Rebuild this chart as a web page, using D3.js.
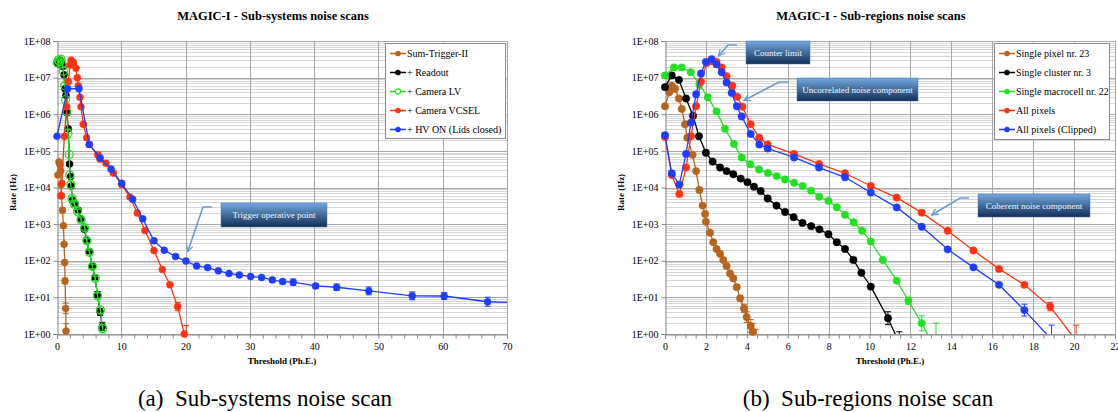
<!DOCTYPE html>
<html>
<head>
<meta charset="utf-8">
<script src="https://cdn.jsdelivr.net/npm/d3@7"></script>
<style>
  body { margin: 0; background: #fff; }
  svg, svg text, .axis text { font-family: 'Liberation Serif', 'DejaVu Serif', serif !important; }
  .title { font-size: 12.5px; font-weight: bold; }
  .axis-label { font-size: 9px; font-weight: bold; }
  .caption { font-size: 23px; }
  .legend-text { font-size: 10px; }
  .callout-text { font-size: 9px; fill: #f4f7fb; }
  .axis text { font-size: 10px; fill: #000; }
  .axis path, .axis line { stroke: #868686; }
</style>
</head>
<body>
<div id="wrapper"></div>
<script>
// 1. data
const yTickValues = [1, 1e1, 1e2, 1e3, 1e4, 1e5, 1e6, 1e7, 1e8];
const leftXTicks = [0, 10, 20, 30, 40, 50, 60, 70];
const rightXTicks = [0, 2, 4, 6, 8, 10, 12, 14, 16, 18, 20, 22];

const leftNames = ["Sum-Trigger-II", "+ Readout", "+ Camera LV", "+ Camera VCSEL", "+ HV ON (Lids closed)"];
const rightNames = ["Single pixel nr. 23", "Single cluster nr. 3", "Single macrocell nr. 22", "All pixels", "All pixels (Clipped)"];

// left panel: sub-systems
const sumTriggerX = [0.15, 0.3, 0.45, 0.55, 0.65, 0.7, 0.85, 1.0, 1.1, 1.2, 1.25, 1.35, 1.4];
const sumTriggerY = [2.2e4, 5e4, 4.2e4, 2.8e4, 1.2e4, 6e3, 2.4e3, 900, 280, 90, 28, 5, 1.2];
const sumTriggerErr = [1, 1, 1, 1, 1, 1, 1, 1, 1, 1.1, 1.2, 1.4, 1.6];

const readoutX = [0.1, 0.3, 0.5, 0.7, 0.9, 1.1, 1.25, 1.4, 1.55, 1.75, 1.95, 2.1, 2.2, 2.4, 2.8, 3.3, 3.7, 4.25, 4.6, 5.0, 5.5, 5.9, 6.3, 6.7, 7.05];
const readoutY = [2.4e7, 2.8e7, 3e7, 2.5e7, 2e7, 1.2e7, 5e6, 3.3e6, 1.1e6, 4e5, 4.4e4, 2e4, 1.1e4, 4.5e3, 3.6e3, 2.4e3, 1.4e3, 720, 370, 180, 72, 35, 12, 4, 1.6];
const readoutErr = [1, 1, 1, 1, 1, 1, 1, 1, 1, 1, 1, 1, 1, 1.1, 1.1, 1.1, 1.1, 1.1, 1.1, 1.1, 1.1, 1.15, 1.2, 1.25, 1.3];

const cameraLvX = [0.05, 0.2, 0.4, 0.6, 0.8, 1.0, 1.2, 1.35, 1.5, 1.7, 1.9, 2.0, 2.15, 2.35, 2.7, 3.2, 3.75, 4.3, 4.65, 5.05, 5.5, 5.95, 6.3, 6.75, 7.1];
const cameraLvY = [2.6e7, 3e7, 2.7e7, 3.2e7, 2.4e7, 1.5e7, 6e6, 2.5e6, 1.2e6, 3e5, 8e4, 2.2e4, 1.2e4, 5e3, 3.5e3, 2.2e3, 1.3e3, 800, 350, 170, 70, 33, 11, 4.5, 1.4];
const cameraLvErr = [1, 1, 1, 1, 1, 1, 1, 1, 1, 1.3, 1, 1, 1, 1.15, 1.15, 1.15, 1.15, 1.15, 1.15, 1.15, 1.15, 1.15, 1.2, 1.25, 1.3];

const vcselX = [0.6, 0.75, 1.14, 1.51, 1.76, 2.02, 2.22, 2.54, 2.95, 3.16, 3.31, 3.58, 3.73, 4.09, 4.62, 5.02, 6.33, 6.69, 7.62, 8.76, 10.06, 11.35, 12.49, 13.69, 15.09, 16.38, 17.57, 18.77, 19.8];
const vcselY = [6e3, 1.3e4, 2.5e5, 1.6e6, 7.8e6, 2.2e7, 3e7, 2.6e7, 1.8e7, 1e7, 6e6, 2.9e6, 1.6e6, 5.3e5, 2.3e5, 1.5e5, 7.8e4, 6e4, 4.6e4, 2.5e4, 1.2e4, 5.5e3, 2e3, 670, 190, 58, 22, 5.6, 1];
const vcselErr = [1, 1, 1, 1, 1, 1, 1, 1, 1, 1, 1, 1, 1, 1, 1, 1, 1, 1, 1, 1, 1, 1, 1, 1, 1, 1, 1.1, 1.3, 1];

const hvOnX = [0, 1.66, 3.42, 5.02, 6.69, 8.4, 10.06, 11.77, 13.33, 15.09, 16.69, 18.45, 20.06, 21.72, 23.43, 25.09, 26.75, 28.36, 30.12, 31.83, 33.5, 35.1, 36.75, 40.23, 43.5, 48.5, 55.26, 60.23, 66.98, 74];
const hvOnY = [2.5e5, 5e6, 5e6, 1.5e5, 6.5e4, 3.2e4, 1.3e4, 4.8e3, 1.4e3, 350, 195, 130, 98, 72, 65, 53, 45, 41, 37, 35, 30, 27, 26, 20.5, 18.9, 15, 11, 10.9, 7.6, 7];
const hvOnErr = [1, 1, 1, 1, 1, 1, 1, 1, 1.1, 1.08, 1, 1, 1, 1, 1, 1, 1, 1, 1, 1.1, 1.15, 1.15, 1.22, 1.15, 1.22, 1.28, 1.28, 1.25, 1.33, 1];

const leftLimitX = [20.1];
const leftLimitY = [1.7];
const leftLimitSeries = [3];

// right panel: sub-regions
const pixelX = [0, 0.21, 0.33, 0.49, 0.68, 0.82, 0.98, 1.09, 1.35, 1.52, 1.68, 1.84, 1.96, 2.0, 2.2, 2.36, 2.52, 2.69, 2.85, 3.01, 3.18, 3.34, 3.51, 3.67, 3.86, 3.99, 4.19, 4.29];
const pixelY = [1.65e6, 4e6, 6e6, 5e6, 2.7e6, 1.4e6, 5.3e5, 2.3e5, 7.8e4, 2.8e4, 8.6e3, 3.2e3, 1.9e3, 1.16e3, 580, 320, 210, 155, 105, 72, 45, 33, 19, 9.4, 5, 2.9, 1.65, 1.15];
const pixelErr = [1, 1, 1, 1, 1, 1, 1, 1, 1, 1, 1, 1, 1, 1, 1, 1, 1, 1, 1, 1.08, 1.1, 1.12, 1.15, 1.2, 1.3, 1.4, 1.5, 1.7];

const clusterX = [0, 0.33, 0.68, 1.03, 1.37, 1.66, 2.0, 2.33, 2.69, 3.01, 3.34, 3.7, 4.03, 4.35, 4.68, 5.02, 5.45, 5.87, 6.29, 6.72, 7.15, 7.55, 7.99, 8.4, 8.8, 9.21, 9.6, 10.06, 10.9, 11.6];
const clusterY = [5.5e6, 1.15e7, 8.7e6, 2.7e6, 9.1e5, 2.5e5, 8.9e4, 5.1e4, 3.5e4, 2.8e4, 2.3e4, 1.75e4, 1.4e4, 1.05e4, 8e3, 5e3, 3.2e3, 2.15e3, 1.55e3, 1.08e3, 880, 720, 530, 320, 210, 105, 47, 19.6, 2.7, 0.38];
const clusterErr = [1, 1, 1, 1, 1, 1, 1, 1, 1, 1, 1, 1, 1, 1, 1, 1, 1, 1, 1, 1, 1, 1, 1, 1, 1, 1, 1, 1.05, 1.5, 1];

const macrocellX = [0, 0.44, 0.82, 1.26, 1.68, 2.09, 2.52, 2.93, 3.37, 3.75, 4.17, 4.6, 5.03, 5.46, 5.87, 6.31, 6.73, 7.14, 7.54, 7.99, 8.4, 8.8, 9.22, 9.63, 10.06, 10.65, 11.33, 11.9, 12.55, 13.2];
const macrocellY = [1.15e7, 1.9e7, 1.9e7, 1.4e7, 6.4e6, 2.9e6, 1.2e6, 4e5, 1.55e5, 6.6e4, 4.3e4, 3.1e4, 2.5e4, 2.05e4, 1.65e4, 1.35e4, 1.1e4, 8.2e3, 5.6e3, 4.3e3, 2.9e3, 1.8e3, 1.13e3, 660, 335, 105, 28.5, 8.1, 1.96, 0.41];
const macrocellErr = [1, 1, 1, 1, 1, 1, 1, 1, 1, 1, 1, 1, 1, 1, 1, 1, 1, 1, 1, 1, 1, 1, 1, 1, 1, 1, 1.1, 1.25, 1.6, 1];

const allPixelsX = [0, 0.33, 0.7, 1.03, 1.27, 1.52, 1.76, 2.04, 2.28, 2.52, 2.77, 3.01, 3.29, 3.53, 3.78, 4.19, 4.61, 5.02, 6.31, 7.53, 8.8, 10.06, 11.33, 12.55, 13.82, 15.08, 16.33, 17.57, 18.83, 20.1];
const allPixelsY = [2.4e5, 2.2e4, 6.6e3, 3.5e4, 2.5e5, 1.65e6, 7.8e6, 2.5e7, 2.8e7, 2.7e7, 1.9e7, 1.1e7, 6e6, 3e6, 1.6e6, 5.3e5, 2.3e5, 1.5e5, 8.3e4, 4.4e4, 2.45e4, 1.1e4, 5.3e3, 2.06e3, 660, 190, 60, 22, 5.6, 0.66];
const allPixelsErr = [1, 1, 1, 1, 1, 1, 1, 1, 1, 1, 1, 1, 1, 1, 1, 1, 1, 1, 1, 1, 1, 1, 1, 1, 1, 1, 1.05, 1.08, 1.3, 1];

const clippedX = [0, 0.33, 0.7, 1.03, 1.27, 1.52, 1.76, 2.0, 2.28, 2.52, 2.77, 3.01, 3.26, 3.51, 3.75, 4.19, 4.61, 5.02, 6.31, 7.53, 8.8, 10.06, 11.33, 12.55, 13.82, 15.08, 16.33, 17.57, 19.3];
const clippedY = [2.7e5, 2.45e4, 1.2e4, 8.3e4, 5.9e5, 3.5e6, 1.3e7, 2.7e7, 3.2e7, 2.3e7, 1.4e7, 7.4e6, 3.8e6, 1.65e6, 8.7e5, 2.9e5, 1.5e5, 1.16e5, 6.6e4, 3.5e4, 1.9e4, 7.3e3, 2.86e3, 850, 205, 66, 22, 4.5, 0.4];
const clippedErr = [1, 1, 1, 1, 1, 1, 1, 1, 1, 1, 1, 1, 1, 1, 1, 1, 1, 1.2, 1, 1, 1, 1, 1, 1, 1, 1, 1.1, 1.45, 1];

const rightLimitX = [4.45, 11.45, 13.25, 20.1, 18.9];
const rightLimitY = [1.35, 1.15, 2.0, 1.75, 1.75];
const rightLimitSeries = [0, 1, 2, 3, 4];

// 2. styles & dimensions
const seriesColors = ["#b5651d", "#000000", "#22e022", "#ff3311", "#1f3dff"];
const plotTop = 41;
const plotBottom = 334;
const serifFont = "'Liberation Serif', 'DejaVu Serif', serif";

const svg = d3.select('#wrapper')
    .append('svg')
    .attr('width', 1118)
    .attr('height', 412)
    .attr('font-family', serifFont);

const defs = svg.append('defs');

const calloutGrad = defs.append('linearGradient')
    .attr('id', 'callout-grad')
    .attr('x1', 0).attr('y1', 0).attr('x2', 0).attr('y2', 1);
calloutGrad.append('stop').attr('offset', '0%').attr('stop-color', '#74a8df');
calloutGrad.append('stop').attr('offset', '100%').attr('stop-color', '#122f55');

defs.append('marker')
    .attr('id', 'arrow-head')
    .attr('viewBox', '0 0 10 10')
    .attr('refX', 9).attr('refY', 5)
    .attr('markerUnits', 'userSpaceOnUse')
    .attr('markerWidth', 8).attr('markerHeight', 8)
    .attr('orient', 'auto')
    .append('path')
    .attr('d', 'M1,1 L9,5 L1,9')
    .attr('fill', 'none')
    .attr('stroke', '#6c9cd4')
    .attr('stroke-width', 1.6);

const expFormat = d => "1E+" + String(Math.round(Math.log10(d))).padStart(2, "0");

// 3. panel drawing
function drawPanel(p) {
    const x = d3.scaleLinear().domain([0, p.xMax]).range([p.left, p.right]);
    const y = d3.scaleLog().domain([1, 1e8]).range([plotBottom, plotTop]);
    const g = svg.append('g');

    defs.append('clipPath')
        .attr('id', p.id + '-clip')
        .append('rect')
        .attr('x', p.left).attr('y', plotTop)
        .attr('width', p.right - p.left).attr('height', plotBottom - plotTop);

    // grid
    const minorValues = [];
    yTickValues.slice(0, -1).forEach(base => {
        for (let m = 2; m <= 9; m++) minorValues.push(base * m);
    });
    g.append('g').selectAll('line')
        .data(minorValues)
        .join('line')
        .attr('x1', p.left).attr('x2', p.right)
        .attr('y1', d => Math.round(y(d)) + 0.5).attr('y2', d => Math.round(y(d)) + 0.5)
        .attr('stroke', '#d6d6d6');
    g.append('g').selectAll('line')
        .data(yTickValues)
        .join('line')
        .attr('x1', p.left).attr('x2', p.right)
        .attr('y1', d => Math.round(y(d)) + 0.5).attr('y2', d => Math.round(y(d)) + 0.5)
        .attr('stroke', '#a8a8a8');
    g.append('g').selectAll('line')
        .data(p.xTicks.slice(1))
        .join('line')
        .attr('x1', d => Math.round(x(d)) + 0.5).attr('x2', d => Math.round(x(d)) + 0.5)
        .attr('y1', plotTop).attr('y2', plotBottom)
        .attr('stroke', '#a8a8a8');

    // axes
    const minorXTicks = d3.range(0, p.xMax + 1e-6, p.xMinor);
    const xAxis = d3.axisBottom(x)
        .tickValues(minorXTicks)
        .tickSize(4)
        .tickPadding(4)
        .tickFormat(d => p.xTicks.some(t => Math.abs(t - d) < 1e-6) ? d : '');
    g.append('g')
        .attr('class', 'axis')
        .attr('transform', `translate(0, ${plotBottom + 0.5})`)
        .call(xAxis)
        .attr('font-family', serifFont);

    const yAxis = d3.axisLeft(y)
        .tickValues(yTickValues)
        .tickSize(4)
        .tickPadding(3)
        .tickFormat(expFormat);
    g.append('g')
        .attr('class', 'axis')
        .attr('transform', `translate(${p.left + 0.5}, 0)`)
        .call(yAxis)
        .attr('font-family', serifFont);

    // series
    const plotArea = g.append('g');
    p.series.forEach((s, i) => {
        const pts = s.xs.map((v, j) => ({ x: v, y: s.ys[j], e: s.errs[j] }));
        const color = seriesColors[i];
        const line = d3.line().x(d => x(d.x)).y(d => y(Math.max(d.y, 1e-3)));

        plotArea.append('path')
            .datum(pts)
            .attr('clip-path', `url(#${p.id}-clip)`)
            .attr('fill', 'none')
            .attr('stroke', color)
            .attr('stroke-width', 1.3)
            .attr('d', line);

        const errPts = pts.filter(d => d.e > 1 && d.y >= 1);
        const eb = plotArea.append('g').attr('stroke', color).attr('stroke-width', 1);
        eb.selectAll('.bar').data(errPts).join('line')
            .attr('x1', d => x(d.x)).attr('x2', d => x(d.x))
            .attr('y1', d => y(d.y * d.e)).attr('y2', d => Math.min(plotBottom, y(d.y / d.e)));
        eb.selectAll('.cap-top').data(errPts).join('line')
            .attr('x1', d => x(d.x) - 3).attr('x2', d => x(d.x) + 3)
            .attr('y1', d => y(d.y * d.e)).attr('y2', d => y(d.y * d.e));
        eb.selectAll('.cap-bottom').data(errPts.filter(d => d.y / d.e >= 1)).join('line')
            .attr('x1', d => x(d.x) - 3).attr('x2', d => x(d.x) + 3)
            .attr('y1', d => y(d.y / d.e)).attr('y2', d => y(d.y / d.e));

        plotArea.append('g').selectAll('circle')
            .data(pts.filter(d => d.y >= 1 && d.x <= p.xMax))
            .join('circle')
            .attr('cx', d => x(d.x))
            .attr('cy', d => y(d.y))
            .attr('r', s.open ? 4 : p.markerR)
            .attr('fill', s.open ? 'none' : color)
            .attr('stroke', color)
            .attr('stroke-width', s.open ? 1.3 : 0.5);
    });

    // upper-limit caps
    const limits = p.limitX.map((v, j) => ({ x: v, y: p.limitY[j], c: seriesColors[p.limitSeries[j]] }));
    const lim = plotArea.append('g');
    lim.selectAll('.v').data(limits).join('line')
        .attr('x1', d => x(d.x)).attr('x2', d => x(d.x))
        .attr('y1', d => y(d.y)).attr('y2', plotBottom)
        .attr('stroke', d => d.c);
    lim.selectAll('.h').data(limits).join('line')
        .attr('x1', d => x(d.x) - 3).attr('x2', d => x(d.x) + 3)
        .attr('y1', d => y(d.y)).attr('y2', d => y(d.y))
        .attr('stroke', d => d.c);

    // callouts
    p.callouts.forEach(c => {
        const startX = c.box[0] - 9;
        const startY = c.box[1] + 4;
        g.append('path')
            .attr('d', `M${startX},${startY} H${startX - 9} L${x(c.tip[0])},${y(c.tip[1])}`)
            .attr('fill', 'none')
            .attr('stroke', '#6c9cd4')
            .attr('stroke-width', 1.6)
            .attr('marker-end', 'url(#arrow-head)');
        g.append('rect')
            .attr('x', c.box[0]).attr('y', c.box[1])
            .attr('width', c.box[2]).attr('height', c.box[3])
            .attr('fill', 'url(#callout-grad)')
            .attr('stroke', '#4a78ad')
            .attr('stroke-width', 0.5);
        g.append('text')
            .attr('class', 'callout-text')
            .attr('x', c.box[0] + c.box[2] / 2)
            .attr('y', c.box[1] + c.box[3] / 2)
            .attr('dy', '0.35em')
            .attr('text-anchor', 'middle')
            .text(c.text);
    });

    // legend
    const legend = g.append('g').attr('transform', `translate(${p.legend[0]}, ${p.legend[1]})`);
    legend.append('rect')
        .attr('x', 0.5).attr('y', 0.5)
        .attr('width', p.legend[2]).attr('height', p.legend[3])
        .attr('fill', '#fff')
        .attr('stroke', '#8c8c8c');
    const items = legend.selectAll('.item')
        .data(p.series)
        .join('g')
        .attr('transform', (d, i) => `translate(0, ${10.5 + i * 19})`);
    items.append('line')
        .attr('x1', 5).attr('x2', 21)
        .attr('stroke', (d, i) => seriesColors[i])
        .attr('stroke-width', 1.5);
    items.append('circle')
        .attr('cx', 13).attr('r', 2.6)
        .attr('fill', (d, i) => d.open ? '#fff' : seriesColors[i])
        .attr('stroke', (d, i) => seriesColors[i])
        .attr('stroke-width', d => d.open ? 1.2 : 0.5);
    items.append('text')
        .attr('class', 'legend-text')
        .attr('x', 22)
        .attr('dy', '0.35em')
        .text(d => d.name);

    // titles & labels
    g.append('text')
        .attr('class', 'title')
        .attr('x', p.titleX).attr('y', 20)
        .attr('text-anchor', 'middle')
        .text(p.title);
    g.append('text')
        .attr('class', 'axis-label')
        .attr('transform', `translate(${p.yLabelX}, ${(plotTop + plotBottom) / 2 + 5}) rotate(-90)`)
        .attr('text-anchor', 'middle')
        .text('Rate (Hz)');
    g.append('text')
        .attr('class', 'axis-label')
        .attr('x', (p.left + p.right) / 2).attr('y', 364)
        .attr('text-anchor', 'middle')
        .text('Threshold (Ph.E.)');
    g.append('text')
        .attr('class', 'caption')
        .attr('x', p.captionX).attr('y', 406)
        .attr('text-anchor', 'middle')
        .text(p.caption);
}

// 4. draw both panels
drawPanel({
    id: 'left', left: 57, right: 507, xMax: 70, xTicks: leftXTicks, xMinor: 2, markerR: 3.5,
    title: 'MAGIC-I - Sub-systems noise scans', titleX: 273,
    caption: '(a)\u2002Sub-systems noise scan', captionX: 265, yLabelX: 16,
    legend: [385, 43, 120, 95],
    series: [
        { name: leftNames[0], xs: sumTriggerX, ys: sumTriggerY, errs: sumTriggerErr },
        { name: leftNames[1], xs: readoutX, ys: readoutY, errs: readoutErr },
        { name: leftNames[2], xs: cameraLvX, ys: cameraLvY, errs: cameraLvErr, open: true },
        { name: leftNames[3], xs: vcselX, ys: vcselY, errs: vcselErr },
        { name: leftNames[4], xs: hvOnX, ys: hvOnY, errs: hvOnErr },
    ],
    limitX: leftLimitX, limitY: leftLimitY, limitSeries: leftLimitSeries,
    callouts: [
        { text: 'Trigger operative point', box: [221, 203, 106, 24], tip: [20.33, 177] },
    ],
});

drawPanel({
    id: 'right', left: 665, right: 1115, xMax: 22, xTicks: rightXTicks, xMinor: 0.5, markerR: 3.7,
    title: 'MAGIC-I - Sub-regions noise scans', titleX: 871,
    caption: '(b)\u2002Sub-regions noise scan', captionX: 868, yLabelX: 624,
    legend: [994, 43, 115, 96],
    series: [
        { name: rightNames[0], xs: pixelX, ys: pixelY, errs: pixelErr },
        { name: rightNames[1], xs: clusterX, ys: clusterY, errs: clusterErr },
        { name: rightNames[2], xs: macrocellX, ys: macrocellY, errs: macrocellErr },
        { name: rightNames[3], xs: allPixelsX, ys: allPixelsY, errs: allPixelsErr },
        { name: rightNames[4], xs: clippedX, ys: clippedY, errs: clippedErr },
    ],
    limitX: rightLimitX, limitY: rightLimitY, limitSeries: rightLimitSeries,
    callouts: [
        { text: 'Counter limit', box: [746, 41, 64, 23], tip: [2.61, 3.9e7] },
        { text: 'Uncorrelated noise component', box: [797, 78, 121, 23], tip: [3.86, 2.37e6] },
        { text: 'Coherent noise component', box: [978, 194, 112, 23], tip: [13.04, 1.78e3] },
    ],
});
</script>
</body>
</html>
